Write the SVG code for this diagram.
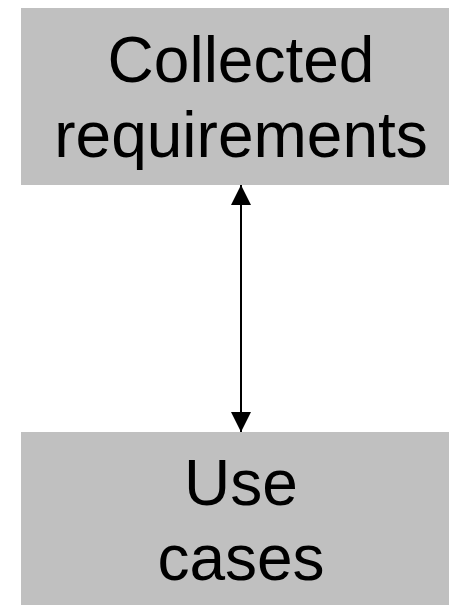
<svg xmlns="http://www.w3.org/2000/svg" width="449" height="605" viewBox="0 0 449 605">
<style>
.box{fill:#c0c0c0;stroke:none}
.lbl{font-family:"Liberation Sans",Arial,sans-serif;font-size:64px;fill:#000;text-anchor:middle}
.conn{stroke:#000;stroke-width:2;fill:none}
</style>
<defs>
<marker id="ah" viewBox="0 0 20 20" refX="20" refY="10" markerWidth="20" markerHeight="20" markerUnits="userSpaceOnUse" orient="auto-start-reverse">
<path d="M0,0 L20,10 L0,20 Z" fill="#000"/>
</marker>
</defs>
<rect width="449" height="605" fill="#fff"/>
<g id="node-requirements">
<rect class="box" x="21" y="8" width="440" height="177"/>
<text class="lbl" x="241" y="82">Collected</text>
<text class="lbl" x="241" y="157">requirements</text>
</g>
<g id="node-usecases">
<rect class="box" x="21" y="432" width="440" height="180"/>
<text class="lbl" x="241" y="505">Use</text>
<text class="lbl" x="241" y="580">cases</text>
</g>
<g id="connectors">
<line class="conn" x1="241" y1="185" x2="241" y2="432" marker-start="url(#ah)" marker-end="url(#ah)"/>
</g>
</svg>
